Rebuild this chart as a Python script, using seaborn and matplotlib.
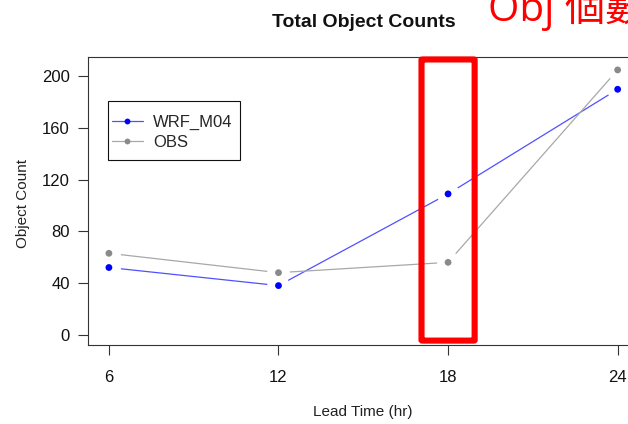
import matplotlib
matplotlib.use("Agg")
import matplotlib.pyplot as plt
from matplotlib.lines import Line2D
from matplotlib.patches import FancyBboxPatch, Rectangle
import pandas as pd
import seaborn as sns

# Object counts by forecast lead time
lead_time = [6, 12, 18, 24]
wrf_m04 = [52, 38, 109, 190]
obs = [63, 48, 56, 205]
series_names = ["WRF_M04", "OBS"]
point_colors = {"WRF_M04": "#0000FF", "OBS": "#8A8A8A"}
line_colors = {"WRF_M04": "#5050FF", "OBS": "#A8A8A8"}
y_ticks = [0, 40, 80, 120, 160, 200]
x_ticks = [6, 12, 18, 24]
highlight_hour = 18

df = pd.DataFrame({
    "Lead Time": lead_time * 2,
    "Count": wrf_m04 + obs,
    "Series": [series_names[0]] * len(lead_time) + [series_names[1]] * len(lead_time),
})

sns.set_theme(style="white")
plt.rcParams["font.family"] = ["Liberation Sans", "Noto Sans CJK TC", "DejaVu Sans"]

W, H = 628, 424
fig = plt.figure(figsize=(W / 100, H / 100), dpi=100)
ax = fig.add_axes([88 / W, 1 - 345 / H, 550 / W, 288 / H])

# connecting lines
sns.lineplot(data=df, x="Lead Time", y="Count", hue="Series", palette=line_colors,
             linewidth=0.9, legend=False, ax=ax, zorder=2)
# white discs leave a small gap in the lines around each point
sns.scatterplot(data=df, x="Lead Time", y="Count", color="white", s=270,
                linewidth=0, legend=False, ax=ax, zorder=3)
sns.scatterplot(data=df, x="Lead Time", y="Count", hue="Series", palette=point_colors,
                s=24, linewidth=0, legend=False, ax=ax, zorder=4)

ax.set_xlim(5.26, 24.72)
ax.set_ylim(-8, 215)
ax.set_xticks(x_ticks)
ax.set_xticklabels([str(t) for t in x_ticks])
ax.set_yticks(y_ticks)
ax.set_yticklabels([str(t) for t in y_ticks])
ax.set_xlabel("")
ax.set_ylabel("")
ax.tick_params(axis="both", direction="out", length=7, width=0.8, color="#333333",
               labelsize=12, labelcolor="#111111")
ax.tick_params(axis="x", pad=11)
ax.tick_params(axis="y", pad=6)
ax.tick_params(bottom=True, left=True)
for sp in ax.spines.values():
    sp.set_color("#333333")
    sp.set_linewidth(0.8)

# legend with a plain rectangular frame
handles = [Line2D([0], [0], color=line_colors[n], lw=0.9, marker="o", markersize=4.2,
                  markerfacecolor=point_colors[n], markeredgewidth=0) for n in series_names]
leg = ax.legend(handles, series_names, loc="center left",
                bbox_to_anchor=(112 / W, 1 - 132 / H), bbox_transform=fig.transFigure,
                frameon=False, fontsize=12, handlelength=1.86, handletextpad=0.6,
                borderpad=0, labelspacing=0.3, borderaxespad=0)
fig.add_artist(Rectangle((108 / W, 1 - 160 / H), 132 / W, 59 / H, fill=False,
                         edgecolor="#111111", linewidth=0.8, transform=fig.transFigure))

# highlight box around the 18 hr lead time
half_w = 0.94
box = FancyBboxPatch((highlight_hour - half_w, -4.6), 2 * half_w, 217.7,
                     boxstyle="round,pad=0,rounding_size=0.05", fill=False,
                     edgecolor="#FF0000", linewidth=4.4, transform=ax.transData,
                     clip_on=False, zorder=6, mutation_aspect=8)
ax.add_patch(box)

fig.text(364 / W, 1 - 27 / H, "Total Object Counts", ha="center", va="baseline",
         fontsize=14, fontweight="bold", color="#111111")
fig.text(363 / W, 1 - 412 / H, "Lead Time (hr)", ha="center", va="center",
         fontsize=11, color="#222222")
fig.text(23 / W, 1 - 204 / H, "Object Count", ha="center", va="center",
         rotation=90, fontsize=11, color="#222222")
fig.text(488 / W, 1 - 21 / H, "Obj 個數", ha="left", va="baseline", fontsize=29,
         fontweight="normal", color="#FF0000",
         family=["Open Sans", "Noto Sans CJK TC", "DejaVu Sans"])

fig.savefig("out.png", dpi=100)
